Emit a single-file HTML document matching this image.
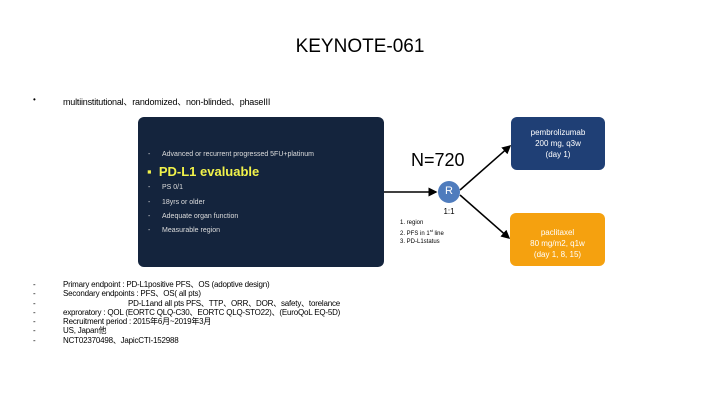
<!DOCTYPE html>
<html><head><meta charset="utf-8"><style>
body{margin:0;width:720px;height:405px;background:#fff;font-family:"Liberation Sans","Noto Sans CJK JP",sans-serif;position:relative;overflow:hidden}
.a{position:absolute;white-space:nowrap}
</style></head><body>
<div class="a" style="left:0;width:720px;top:36px;text-align:center;font-size:19px;color:#000">KEYNOTE-061</div>
<div class="a" style="left:33px;top:95px;font-size:8px">•</div>
<div class="a" style="left:63px;top:95px;font-size:9px;letter-spacing:-0.2px">multiinstitutional、randomized、non‑blinded、phaseIII</div>

<div class="a" style="left:138px;top:117px;width:246px;height:150px;background:#14243d;border-radius:6px"></div>
<div class="a" style="left:148px;top:151px;font-size:7px;color:#ddd">-&nbsp;&nbsp;&nbsp;&nbsp;&nbsp;&nbsp;Advanced or recurrent progressed 5FU+platinum</div>
<div class="a" style="left:147px;top:164px;font-size:13px;font-weight:bold;color:#f1f24a">▪&nbsp; PD-L1 evaluable</div>
<div class="a" style="left:148px;top:184px;font-size:7px;color:#ddd">-&nbsp;&nbsp;&nbsp;&nbsp;&nbsp;&nbsp;PS 0/1</div>
<div class="a" style="left:148px;top:199px;font-size:7px;color:#ddd">-&nbsp;&nbsp;&nbsp;&nbsp;&nbsp;&nbsp;18yrs or older</div>
<div class="a" style="left:148px;top:213px;font-size:7px;color:#ddd">-&nbsp;&nbsp;&nbsp;&nbsp;&nbsp;&nbsp;Adequate organ function</div>
<div class="a" style="left:148px;top:227px;font-size:7px;color:#ddd">-&nbsp;&nbsp;&nbsp;&nbsp;&nbsp;&nbsp;Measurable region</div>

<svg class="a" style="left:0;top:0" width="720" height="405">
<defs><marker id="m" markerWidth="6" markerHeight="6" refX="5" refY="3" orient="auto"><path d="M0,0L6,3L0,6z" fill="#000"/></marker></defs>
<line x1="384" y1="192" x2="436" y2="192" stroke="#000" stroke-width="1.5" marker-end="url(#m)"/>
<line x1="460" y1="190" x2="510" y2="146" stroke="#000" stroke-width="1.5" marker-end="url(#m)"/>
<line x1="460" y1="195" x2="509" y2="238" stroke="#000" stroke-width="1.5" marker-end="url(#m)"/>
<circle cx="449" cy="192" r="11" fill="#4f7cbd"/>
</svg>
<div class="a" style="left:438px;top:185px;width:22px;text-align:center;font-size:11px;color:#fff">R</div>
<div class="a" style="left:411px;top:150px;font-size:18px">N=720</div>
<div class="a" style="left:438px;top:207px;width:22px;text-align:center;font-size:8px">1:1</div>
<div class="a" style="left:400px;top:219px;font-size:6px;line-height:8px">1. region<br>2. PFS in 1<sup style="font-size:4px">st</sup> line<br>3. PD-L1status</div>

<div class="a" style="left:511px;top:117px;width:94px;height:53px;background:#1f3f75;border-radius:6px;color:#fff;font-size:8px;line-height:11px;text-align:center;padding-top:10px;box-sizing:border-box">pembrolizumab<br>200 mg, q3w<br>(day 1)</div>
<div class="a" style="left:510px;top:213px;width:95px;height:53px;background:#f5a10f;border-radius:6px;color:#fff;font-size:8px;line-height:11px;text-align:center;padding-top:14px;box-sizing:border-box">paclitaxel<br>80 mg/m2, q1w<br>(day 1, 8, 15)</div>

<div class="a" style="left:33px;top:280px;font-size:8px;line-height:9.3px">-<br>-<br>-<br>-<br>-<br>-<br>-</div>
<div class="a" style="left:63px;top:280px;font-size:8px;line-height:9.3px;letter-spacing:-0.2px">Primary endpoint : PD-L1positive PFS、OS (adoptive design)<br>Secondary endpoints : PFS、OS( all pts)<br><span style="padding-left:65px">PD-L1and all pts PFS、TTP、ORR、DOR、safety、torelance</span><br>exproratory : QOL (EORTC QLQ-C30、EORTC QLQ-STO22)、(EuroQoL EQ-5D)<br>Recruitment period : 2015年6月~2019年3月<br>US, Japan他<br>NCT02370498、JapicCTI-152988</div>
</body></html>
